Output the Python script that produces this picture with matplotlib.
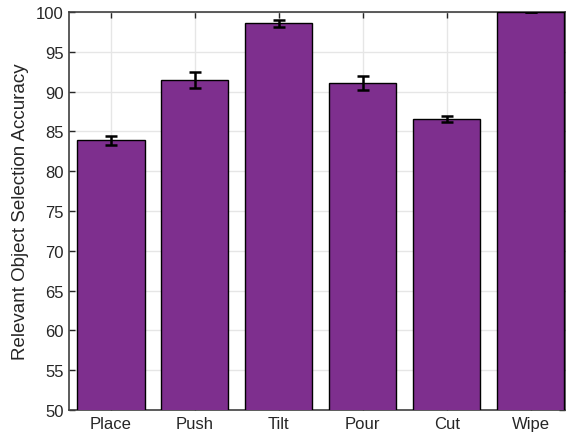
import numpy as np
import matplotlib.pyplot as plt

plt.rcParams['font.family'] = ['Liberation Sans', 'DejaVu Sans']

tasks = ['Place', 'Push', 'Tilt', 'Pour', 'Cut', 'Wipe']
accuracy = [83.87, 91.45, 98.6, 91.08, 86.5, 100.0]
accuracy_err = [0.6, 1.0, 0.45, 0.85, 0.38, 0.05]

fig = plt.figure(figsize=(5.71, 4.39), dpi=100)
ax = fig.add_axes([69 / 571, 1 - 411 / 439, (565 - 69) / 571, (411 - 13) / 439])

x = np.arange(1, len(tasks) + 1)
ax.bar(x, accuracy, width=0.8, color='#7E2F8E', edgecolor='black', linewidth=1.0, zorder=3)
ax.errorbar(x, accuracy, yerr=accuracy_err, fmt='none', ecolor='black',
            elinewidth=1.8, capsize=4, capthick=1.8, zorder=4)

ax.set_xlim(0.5, 6.41)
ax.set_ylim(50, 100)
ax.set_xticks(x)
ax.set_xticklabels(tasks)
ax.set_yticks(np.arange(50, 101, 5))
ax.set_ylabel('Relevant Object Selection Accuracy', fontsize=13.5, color='#262626', labelpad=5)

ax.grid(True, color='#e6e6e6', linewidth=1.0, zorder=0)
ax.tick_params(direction='in', top=True, right=True, length=4, width=1.0,
               colors='#262626', labelsize=12, pad=4)
for spine in ax.spines.values():
    spine.set_color('#404040')
    spine.set_linewidth(1.2)

fig.savefig('out.png', dpi=100)
